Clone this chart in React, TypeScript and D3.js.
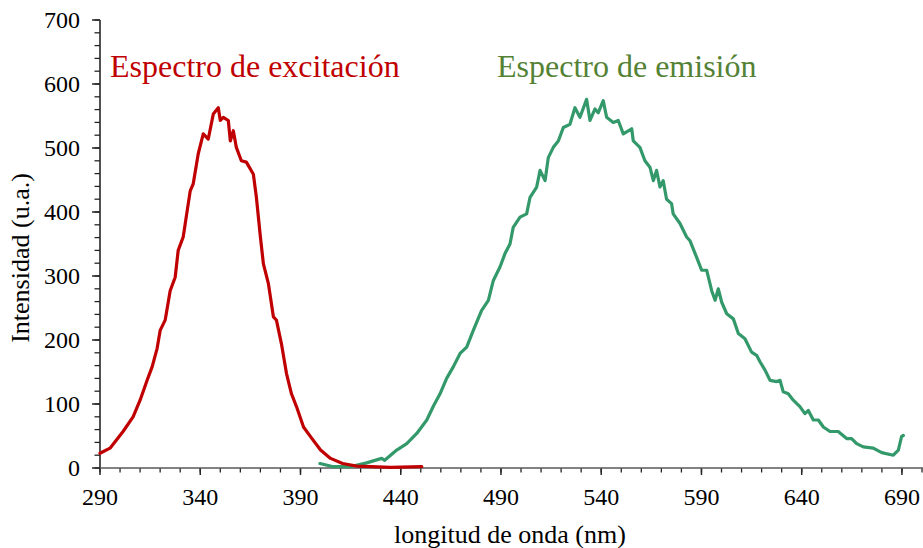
import React from "react";
import * as d3 from "d3";

const excNm = [290, 295, 301.5, 306.5, 310, 313.5, 316, 318.5, 320, 322.5, 325, 327.5, 329, 331.5, 333, 335, 336.5, 339, 341.5, 344, 346.5, 349, 350, 351.5, 354, 355, 356.5, 358, 360.5, 363, 366.5, 368, 370, 371.5, 374, 376.5, 378, 380.5, 383, 385.5, 388, 391.5, 395, 400, 405, 411, 418, 425, 435, 450.5];
const excVal = [23, 31, 57, 80, 106, 137, 158, 187, 215, 231, 277, 298, 340, 361, 392, 433, 444, 491, 522, 514, 553, 563, 543, 548, 543, 511, 527, 501, 480, 478, 459, 423, 361, 319, 288, 236, 231, 194, 148, 116, 96, 64, 49, 28, 15, 7, 3, 2, 1, 2];

const emiNm = [399.7, 406.4, 414.7, 423, 430.5, 432, 438, 443, 448, 453, 456.2, 459.6, 462.9, 466.2, 469.6, 472.9, 476.2, 480.3, 483.7, 486.2, 489.5, 492, 494.5, 496.1, 499.5, 502.8, 504.5, 507.8, 509.5, 512, 513.6, 516.1, 518.6, 521.1, 524.4, 526.9, 529.4, 532.7, 534.4, 536.9, 538.5, 541, 542.7, 546, 548.5, 551, 555.2, 556, 559.3, 561.8, 564.3, 566, 567.6, 569.3, 570.9, 572.6, 575.1, 575.9, 579.3, 582.6, 584.3, 587.6, 590.1, 592.6, 595.1, 596.8, 598.4, 600.1, 602.6, 605.9, 608.4, 611.7, 615, 617.5, 619.2, 621.7, 624.2, 627.5, 629.2, 630.8, 633.3, 635.8, 639.1, 641.6, 643.3, 645.8, 648.3, 650.8, 654.1, 658.2, 662.4, 664.9, 667.4, 670.7, 675.7, 679.9, 685.7, 688.2, 689.8, 690.7];
const emiVal = [7, 2, 2, 8, 15, 12, 28, 38, 54, 75, 96, 116, 140, 158, 179, 189, 215, 246, 262, 293, 314, 335, 350, 376, 392, 397, 423, 439, 465, 449, 485, 501, 511, 532, 537, 563, 548, 576, 543, 561, 555, 574, 548, 540, 543, 522, 530, 511, 501, 480, 470, 449, 465, 439, 449, 420, 413, 397, 382, 361, 355, 329, 309, 309, 277, 262, 280, 259, 241, 233, 210, 202, 181, 176, 166, 153, 137, 135, 137, 119, 116, 106, 96, 85, 90, 75, 75, 64, 57, 57, 46, 46, 38, 33, 31, 24, 20, 28, 49, 51];

const xTicks = [290, 340, 390, 440, 490, 540, 590, 640, 690];
const yTicks = [0, 100, 200, 300, 400, 500, 600, 700];
const seriesLabels = ["Espectro de excitación", "Espectro de emisión"];
const xTitle = "longitud de onda (nm)";
const yTitle = "Intensidad (u.a.)";

const W = 923;
const H = 548;
const FONT = "'Liberation Serif', 'Times New Roman', serif";

export default function App() {
  const x = d3.scaleLinear().domain([290, 700]).range([100, 922]);
  const y = d3.scaleLinear().domain([0, 700]).range([468, 20]);
  const line = d3
    .line<[number, number]>()
    .x((d) => x(d[0]))
    .y((d) => y(d[1]))
    .curve(d3.curveLinear);
  const exc = excNm.map((n, i) => [n, excVal[i]] as [number, number]);
  const emi = emiNm.map((n, i) => [n, emiVal[i]] as [number, number]);
  const xMinor = d3.range(290, 701, 10);
  const yMinor = d3.range(0, 701, 20);
  const axisColor = "#262626";

  return (
    <svg
      width={W}
      height={H}
      style={{ position: "absolute", left: 0, top: 0, background: "#fff" }}
      fontFamily={FONT}
    >
      <rect x={0} y={0} width={W} height={H} fill="#fff" />
      {/* y minor ticks */}
      {yMinor.map((v) => (
        <line key={"ym" + v} x1={94.5} x2={100} y1={y(v)} y2={y(v)} stroke={axisColor} strokeWidth={1.3} />
      ))}
      {yTicks.map((v) => (
        <g key={"y" + v}>
          <line x1={92} x2={100} y1={y(v)} y2={y(v)} stroke={axisColor} strokeWidth={1.5} />
          <text x={80} y={y(v)} dy="0.35em" textAnchor="end" fontSize={24} fill="#000">
            {v}
          </text>
        </g>
      ))}
      {xMinor.map((v) => (
        <line key={"xm" + v} x1={x(v)} x2={x(v)} y1={468} y2={472.5} stroke={axisColor} strokeWidth={1.3} />
      ))}
      {xTicks.map((v) => (
        <g key={"x" + v}>
          <line x1={x(v)} x2={x(v)} y1={468} y2={475} stroke={axisColor} strokeWidth={1.5} />
          <text x={x(v)} y={505} textAnchor="middle" fontSize={24} fill="#000">
            {v}
          </text>
        </g>
      ))}
      <line x1={100} x2={100} y1={20} y2={468} stroke={axisColor} strokeWidth={1.6} />
      <line x1={100} x2={923} y1={468} y2={468} stroke="#595959" strokeWidth={1.6} />

      <path d={line(emi) || ""} fill="none" stroke="#33996A" strokeWidth={3.2} strokeLinejoin="round" strokeLinecap="round" />
      <path d={line(exc) || ""} fill="none" stroke="#C00000" strokeWidth={3.2} strokeLinejoin="round" strokeLinecap="round" />

      <text x={110} y={77} fontSize={32} fill="#C00000">
        {seriesLabels[0]}
      </text>
      <text x={497} y={77} fontSize={32} fill="#548235">
        {seriesLabels[1]}
      </text>

      <text x={510} y={543} textAnchor="middle" fontSize={26} fill="#000">
        {xTitle}
      </text>
      <text
        transform={`translate(29, 258) rotate(-90)`}
        textAnchor="middle"
        fontSize={26}
        fill="#000"
      >
        {yTitle}
      </text>
    </svg>
  );
}
